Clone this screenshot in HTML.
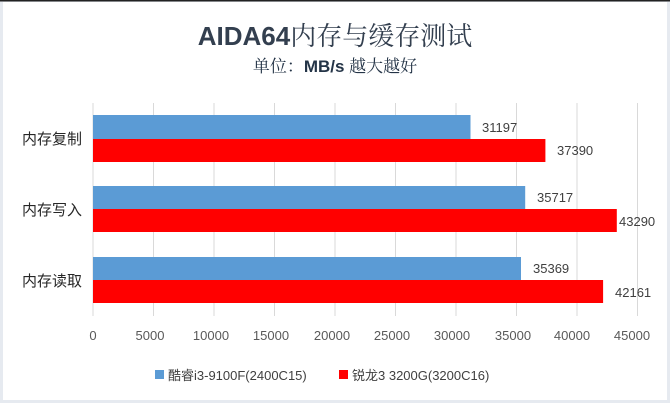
<!DOCTYPE html>
<html><head><meta charset="utf-8"><style>
body{margin:0;width:670px;height:403px;background:#fff;overflow:hidden;font-family:"Liberation Sans","Noto Sans CJK SC",sans-serif}
.s{font-family:"Noto Serif CJK SC","Noto Sans CJK SC",serif;font-weight:normal}
</style></head><body>
<svg width="670" height="403" xmlns="http://www.w3.org/2000/svg" style="font-family:'Liberation Sans','Noto Sans CJK SC',sans-serif">
<rect x="0" y="0" width="670" height="403" fill="#e6eaf0"/>
<rect x="3" y="2" width="664" height="398" fill="#fff"/>
<rect x="0" y="0" width="670" height="1.5" fill="#222"/>
<text x="335" y="45" text-anchor="middle" font-size="26" font-weight="bold" fill="#333f4f">AIDA64<tspan class="s">内存与缓存测试</tspan></text>
<text x="335" y="72" text-anchor="middle" font-size="17" font-weight="bold" fill="#243447"><tspan class="s">单位：</tspan>MB/s <tspan class="s">越大越好</tspan></text>
<g stroke="#d9d9d9" stroke-width="1">
<line x1="93" y1="103" x2="93" y2="316"/><line x1="153.5" y1="103" x2="153.5" y2="316"/><line x1="214" y1="103" x2="214" y2="316"/><line x1="274.5" y1="103" x2="274.5" y2="316"/><line x1="335" y1="103" x2="335" y2="316"/><line x1="395.5" y1="103" x2="395.5" y2="316"/><line x1="456" y1="103" x2="456" y2="316"/><line x1="516.5" y1="103" x2="516.5" y2="316"/><line x1="577" y1="103" x2="577" y2="316"/><line x1="637.5" y1="103" x2="637.5" y2="316"/>
</g>
<g fill="#5b9bd5"><rect x="93" y="115" width="377.5" height="24"/><rect x="93" y="186" width="432.2" height="23"/><rect x="93" y="257" width="428" height="23"/></g>
<g fill="#ff0000"><rect x="93" y="139" width="452.4" height="23"/><rect x="93" y="209" width="523.8" height="23"/><rect x="93" y="280" width="510.1" height="23"/></g>
<g font-size="13" fill="#404040">
<text x="482" y="132">31197</text><text x="557" y="155">37390</text>
<text x="537" y="202">35717</text><text x="619" y="226">43290</text>
<text x="533" y="273">35369</text><text x="615" y="297">42161</text>
</g>
<g font-size="15" fill="#262626" text-anchor="end">
<text x="82" y="144">内存复制</text><text x="82" y="215">内存写入</text><text x="82" y="286">内存读取</text>
</g>
<g font-size="13" fill="#595959" text-anchor="middle">
<text x="93" y="340">0</text><text x="150" y="340">5000</text><text x="211" y="340">10000</text><text x="271" y="340">15000</text><text x="332" y="340">20000</text><text x="392" y="340">25000</text><text x="452" y="340">30000</text><text x="513" y="340">35000</text><text x="572" y="340">40000</text><text x="632" y="340">45000</text>
</g>
<rect x="155" y="370" width="9" height="9" fill="#5b9bd5"/>
<text x="168" y="380" font-size="13" fill="#404040">酷睿i3-9100F(2400C15)</text>
<rect x="339" y="370" width="9" height="9" fill="#ff0000"/>
<text x="352" y="380" font-size="13" fill="#404040">锐龙3 3200G(3200C16)</text>
</svg>
</body></html>
